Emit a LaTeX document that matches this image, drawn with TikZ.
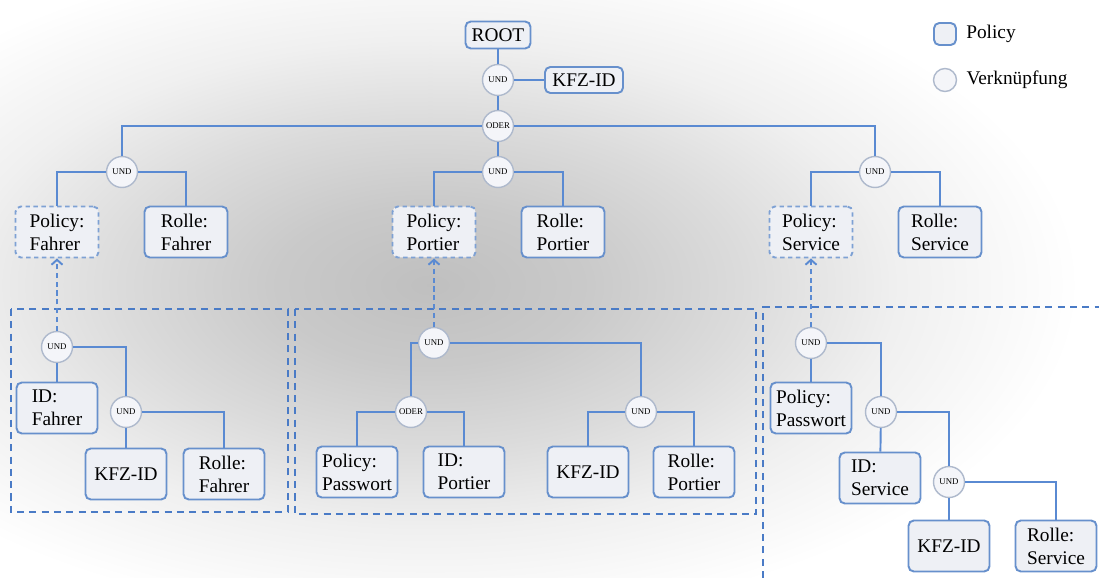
\documentclass[tikz,border=0pt]{standalone}
\usepackage{fontspec}
\setmainfont{Liberation Serif}
\usetikzlibrary{arrows.meta, positioning}
\definecolor{LinkBlue}{HTML}{5A8AD2}
\definecolor{BoxBlue}{HTML}{6790CC}
\definecolor{BoxFill}{HTML}{EEF0F5}
\definecolor{RingGray}{HTML}{AEB9CC}
\definecolor{RingFill}{HTML}{F4F5F9}
\definecolor{FrameBlue}{HTML}{4A7BC6}
\pgfdeclareradialshading{bgglow}{\pgfpoint{0bp}{0bp}}{color(0bp)=(black!25); color(6bp)=(black!21); color(12bp)=(black!14); color(18bp)=(black!6); color(25bp)=(white); color(50bp)=(white)}

\begin{document}
\begin{tikzpicture}[
    x=0.02cm, y=-0.02cm,
    policy/.style={draw=BoxBlue, fill=BoxFill, rounded corners=3pt, line width=1.1pt,
      align=left, minimum width=1.62cm, minimum height=1.02cm, inner sep=2pt,
      font=\fontsize{11}{13}\selectfont},
    refbox/.style={policy, draw=BoxBlue!85, dash pattern=on 2.5pt off 2pt},
    op/.style={circle, draw=RingGray, fill=RingFill, line width=0.8pt, minimum size=0.62cm,
      inner sep=0pt, font=\fontsize{5}{6}\selectfont},
    link/.style={draw=LinkBlue, line width=1.1pt},
    reflink/.style={draw=LinkBlue, line width=1.1pt, dash pattern=on 3pt off 2pt,
      -{Straight Barb[length=1mm, width=2.2mm]}},
    groupframe/.style={draw=FrameBlue, line width=1.3pt, dash pattern=on 4pt off 3pt},
    legtext/.style={inner sep=0pt, font=\fontsize{11}{13}\selectfont}
  ]
    \useasboundingbox (0,0) rectangle (1099,578);
    \fill[white] (0,0) rectangle (1099,578);
    \begin{scope}
      \clip (0,0) rectangle (1099,578);
      \shade[shading=bgglow] (430,285) ellipse [x radius=13cm, y radius=6.8cm];
    \end{scope}

    \draw[groupframe] (11,309) rectangle (288,512);
    \draw[groupframe] (295,309) rectangle (756,514);
    \draw[groupframe] (763,578) |- (1099,307);

    \node[policy, minimum width=1.3cm, minimum height=0.54cm] (root) at (498,35) {ROOT};
    \node[op] (rootund) at (498,80) {UND};
    \node[policy, minimum width=1.56cm, minimum height=0.52cm] (rootkfz) at (584,80) {KFZ-ID};
    \node[op] (oder) at (498,126) {ODER};

    \node[op] (undf) at (122,172) {UND};
    \node[op] (undp) at (498,172) {UND};
    \node[op] (unds) at (875,172) {UND};
    \node[refbox, minimum width=1.66cm] (polf) at (57,232) {Policy:\\Fahrer};
    \node[policy, minimum width=1.66cm] (rolf) at (186,232) {Rolle:\\Fahrer};
    \node[refbox, minimum width=1.66cm] (polp) at (434,232) {Policy:\\Portier};
    \node[policy, minimum width=1.66cm] (rolp) at (563,232) {Rolle:\\Portier};
    \node[refbox, minimum width=1.66cm] (pols) at (811,232) {Policy:\\Service};
    \node[policy, minimum width=1.66cm] (rols) at (940,232) {Rolle:\\Service};

    \node[op] (f1und) at (57,347) {UND};
    \node[op] (f2und) at (126,412) {UND};
    \node[policy] (fid) at (57,408) {ID:\\Fahrer};
    \node[policy] (fkfz) at (126,474) {KFZ-ID};
    \node[policy] (frol) at (224,474) {Rolle:\\Fahrer};

    \node[op] (p1und) at (434,343) {UND};
    \node[op] (poder) at (411,412) {ODER};
    \node[op] (p2und) at (641,412) {UND};
    \node[policy] (ppw) at (357,472) {Policy:\\Passwort};
    \node[policy] (pid) at (464,472) {ID:\\Portier};
    \node[policy] (pkfz) at (588,472) {KFZ-ID};
    \node[policy] (prol) at (694,472) {Rolle:\\Portier};

    \node[op] (s1und) at (811,343) {UND};
    \node[op] (s2und) at (881,412) {UND};
    \node[op] (s3und) at (949,482) {UND};
    \node[policy] (spw) at (811,408) {Policy:\\Passwort};
    \node[policy] (sid) at (880,478) {ID:\\Service};
    \node[policy] (skfz) at (949,546) {KFZ-ID};
    \node[policy] (srol) at (1056,546) {Rolle:\\Service};

    \node[policy, minimum width=0.44cm, minimum height=0.44cm, inner sep=0pt] (legbox) at (945,34) {};
    \node[op, minimum size=0.46cm] (legcirc) at (945,80) {};
    \node[legtext, right=0.18cm of legbox] (legboxtxt) {Policy};
    \node[legtext, right=0.18cm of legcirc] (legcirctxt) {Verknüpfung};

    \draw[link] (root) -- (rootund);
    \draw[link] (rootund) -- (rootkfz);
    \draw[link] (rootund) -- (oder);
    \draw[link] (oder) -| (undf);
    \draw[link] (oder) -- (undp);
    \draw[link] (oder) -| (unds);
    \draw[link] (undf) -| (polf);
    \draw[link] (undf) -| (rolf);
    \draw[link] (undp) -| (polp);
    \draw[link] (undp) -| (rolp);
    \draw[link] (unds) -| (pols);
    \draw[link] (unds) -| (rols);

    \draw[reflink] (f1und) -- (polf);
    \draw[reflink] (p1und) -- (polp);
    \draw[reflink] (s1und) -- (pols);

    \draw[link] (f1und) -- (fid);
    \draw[link] (f1und) -| (f2und);
    \draw[link] (f2und) -- (fkfz);
    \draw[link] (f2und) -| (frol);

    \draw[link] (p1und) -| (poder);
    \draw[link] (p1und) -| (p2und);
    \draw[link] (poder) -| (ppw);
    \draw[link] (poder) -| (pid);
    \draw[link] (p2und) -| (pkfz);
    \draw[link] (p2und) -| (prol);

    \draw[link] (s1und) -- (spw);
    \draw[link] (s1und) -| (s2und);
    \draw[link] (s2und) -- (sid);
    \draw[link] (s2und) -| (s3und);
    \draw[link] (s3und) -- (skfz);
    \draw[link] (s3und) -| (srol);
  \end{tikzpicture}
\end{document}
